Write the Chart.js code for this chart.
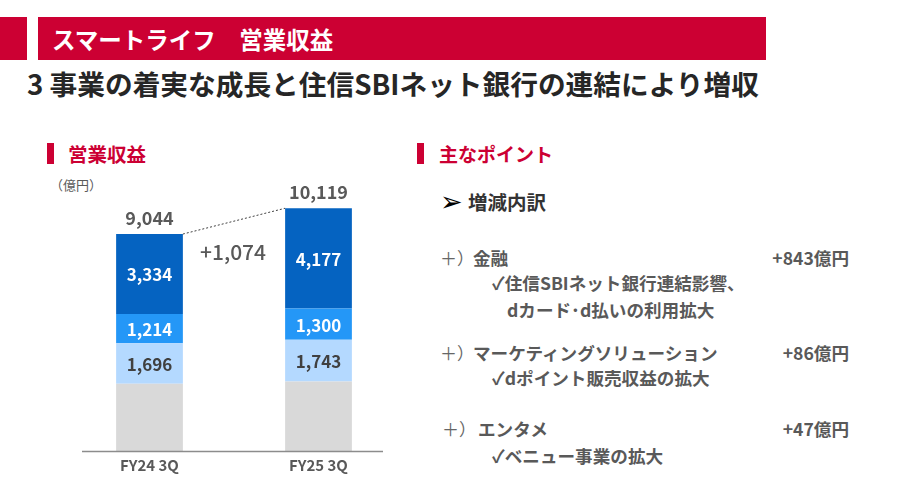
<!DOCTYPE html>
<html><head><meta charset="utf-8">
<script src="https://cdn.jsdelivr.net/npm/chart.js@4"></script>
<style>
html,body{margin:0;padding:0;background:#fff;}
body{width:903px;height:477px;position:relative;overflow:hidden;font-family:"Noto Sans CJK JP","Noto Sans",sans-serif;}
.abs{position:absolute;white-space:nowrap;}
#c{position:absolute;left:0;top:0;}
.red{color:#cc0033;font-weight:bold;}
.g{color:#595959;font-weight:bold;font-size:17.6px;line-height:22px;}
.pl{font-weight:normal;font-size:17px;color:#666;}
.pr{font-weight:normal;font-size:17px;color:#666;}
</style></head><body>
<div class="abs" style="left:0;top:17px;width:27px;height:43px;background:#cc0033"></div>
<div class="abs" style="left:38px;top:17px;width:728px;height:43px;background:#cc0033"></div>
<div class="abs" style="left:52px;top:25px;height:28px;line-height:28px;font-size:23.5px;font-weight:bold;color:#fff;">スマートライフ　営業収益</div>
<div class="abs" style="left:27px;top:65px;height:36px;line-height:36px;font-size:27.7px;font-weight:bold;color:#262626;">3 事業の着実な成長と住信SBIネット銀行の連結により増収</div>

<div class="abs" style="left:47px;top:143px;width:7px;height:21px;background:#cc0033"></div>
<div class="abs red" style="left:68px;top:142px;line-height:24px;font-size:19.5px;">営業収益</div>
<div class="abs" style="left:50px;top:176px;line-height:18px;font-size:13px;color:#595959;">（億円）</div>

<div class="abs" style="left:417px;top:143px;width:7px;height:21px;background:#cc0033"></div>
<div class="abs red" style="left:439px;top:142px;line-height:24px;font-size:19px;">主なポイント</div>

<div class="abs" style="left:440px;top:186px;line-height:32px;font-size:27px;font-family:'DejaVu Sans';color:#000;">➢</div>
<div class="abs g" style="left:468px;top:190px;line-height:24px;font-size:19.5px;color:#333;">増減内訳</div>

<div class="abs g" style="left:440px;top:247px;"><span class="pl">＋</span><span class="pr">）</span></div>
<div class="abs g" style="left:473px;top:247px;">金融</div>
<div class="abs g" style="right:54px;top:247px;">+843億円</div>
<div class="abs g" style="left:492px;top:272px;">✓住信SBIネット銀行連結影響、</div>
<div class="abs g" style="left:507px;top:299px;">dカード･d払いの利用拡大</div>

<div class="abs g" style="left:440px;top:342px;"><span class="pl">＋</span><span class="pr">）</span></div>
<div class="abs g" style="left:473px;top:342px;">マーケティングソリューション</div>
<div class="abs g" style="right:54px;top:342px;">+86億円</div>
<div class="abs g" style="left:492px;top:367px;">✓dポイント販売収益の拡大</div>

<div class="abs g" style="left:442px;top:418px;"><span class="pl">＋</span><span class="pr">）</span></div>
<div class="abs g" style="left:478px;top:418px;">エンタメ</div>
<div class="abs g" style="right:54px;top:418px;">+47億円</div>
<div class="abs g" style="left:492px;top:445px;">✓ベニュー事業の拡大</div>

<canvas id="c" width="903" height="477"></canvas>
<script>
const categories = ["FY24 3Q", "FY25 3Q"];
const otherValues = [2800, 2899];
const marketingValues = [1696, 1743];
const entameValues = [1214, 1300];
const financeValues = [3334, 4177];
const totalLabels = ["9,044", "10,119"];
const diffLabel = "+1,074";

const fmt = v => v.toLocaleString("en-US");
const FONT = '"Noto Sans CJK JP","Noto Sans",sans-serif';

const labelPlugin = {
  id: "labels",
  afterDatasetsDraw(chart) {
    const ctx = chart.ctx;
    const ys = chart.scales.y;
    ctx.save();
    ctx.strokeStyle = "#8c8c8c";
    ctx.lineWidth = 1.5;
    ctx.beginPath();
    ctx.moveTo(82, ys.getPixelForValue(0) + 0.5);
    ctx.lineTo(383, ys.getPixelForValue(0) + 0.5);
    ctx.stroke();
    ctx.textAlign = "center";
    ctx.textBaseline = "middle";
    chart.data.datasets.forEach((ds, di) => {
      if (!ds.showLabel) return;
      const meta = chart.getDatasetMeta(di);
      meta.data.forEach((bar, i) => {
        const y = (bar.y + bar.base) / 2;
        ctx.fillStyle = ds.labelColor;
        ctx.font = "bold 17px " + FONT;
        ctx.fillText(fmt(ds.data[i]), bar.x, y + 1);
      });
    });
    const topMeta = chart.getDatasetMeta(chart.data.datasets.length - 1);
    topMeta.data.forEach((bar, i) => {
      ctx.fillStyle = "#595959";
      ctx.font = "bold 18px " + FONT;
      ctx.fillText(totalLabels[i], bar.x, bar.y - 16);
    });
    const b0 = topMeta.data[0], b1 = topMeta.data[1];
    ctx.strokeStyle = "#404040";
    ctx.lineWidth = 1;
    ctx.setLineDash([2, 2]);
    ctx.beginPath();
    ctx.moveTo(b0.x + b0.width / 2, b0.y);
    ctx.lineTo(b1.x - b1.width / 2, b1.y);
    ctx.stroke();
    ctx.setLineDash([]);
    ctx.fillStyle = "#595959";
    ctx.font = "500 21px " + FONT;
    ctx.fillText(diffLabel, (b0.x + b1.x) / 2 - 1, 252);
    ctx.restore();
  }
};

new Chart(document.getElementById("c"), {
  type: "bar",
  data: {
    labels: categories,
    datasets: [
      { data: otherValues, backgroundColor: "#d9d9d9", showLabel: false },
      { data: marketingValues, backgroundColor: "#b4d9ff", showLabel: true, labelColor: "#404040" },
      { data: entameValues, backgroundColor: "#2497f7", showLabel: true, labelColor: "#ffffff" },
      { data: financeValues, backgroundColor: "#0563c1", showLabel: true, labelColor: "#ffffff" }
    ]
  },
  options: {
    responsive: false,
    animation: false,
    devicePixelRatio: 1,
    layout: { padding: { left: 65, right: 500, top: 0, bottom: 0 } },
    plugins: { legend: { display: false }, tooltip: { enabled: false } },
    datasets: { bar: { barPercentage: 0.79, categoryPercentage: 0.5, borderWidth: 0 } },
    scales: {
      x: {
        stacked: true,
        grid: { display: false, drawTicks: false },
        border: { display: false },
        ticks: { color: "#595959", font: { family: FONT, size: 15, weight: "bold" }, padding: 5 },
        afterFit: s => { s.height = 26; }
      },
      y: {
        stacked: true,
        display: false,
        min: 0,
        max: 18800
      }
    }
  },
  plugins: [labelPlugin]
});
</script>
</body></html>
